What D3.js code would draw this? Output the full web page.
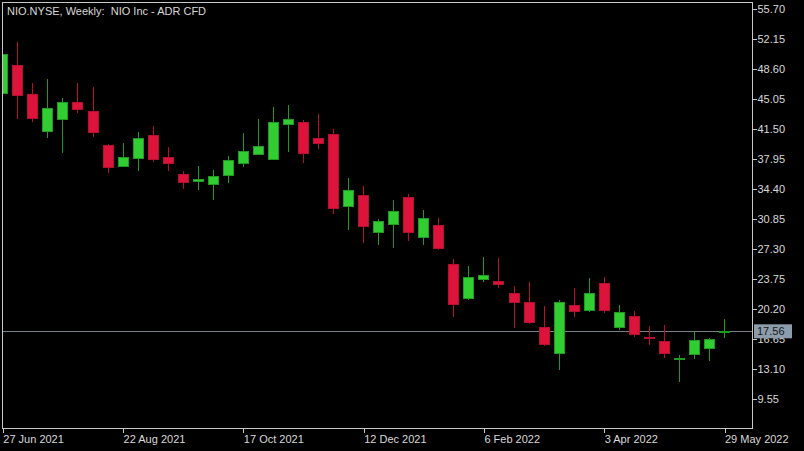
<!DOCTYPE html>
<html>
<head>
<meta charset="utf-8">
<script src="https://cdn.jsdelivr.net/npm/d3@7"></script>
<style>
  html, body { margin: 0; padding: 0; background: #000; }
  svg { display: block; }
  text { font-family: "Liberation Sans", Arial, sans-serif; font-size: 11px; }
</style>
</head>
<body>
<svg id="chart" width="804" height="451"></svg>
<script>
// ---- data ----
const title = "NIO.NYSE, Weekly:  NIO Inc - ADR CFD";
const dates = [
  "2021-06-27","2021-07-04","2021-07-11","2021-07-18","2021-07-25","2021-08-01","2021-08-08","2021-08-15",
  "2021-08-22","2021-08-29","2021-09-05","2021-09-12","2021-09-19","2021-09-26","2021-10-03","2021-10-10",
  "2021-10-17","2021-10-24","2021-10-31","2021-11-07","2021-11-14","2021-11-21","2021-11-28","2021-12-05",
  "2021-12-12","2021-12-19","2021-12-26","2022-01-02","2022-01-09","2022-01-16","2022-01-23","2022-01-30",
  "2022-02-06","2022-02-13","2022-02-20","2022-02-27","2022-03-06","2022-03-13","2022-03-20","2022-03-27",
  "2022-04-03","2022-04-10","2022-04-17","2022-04-24","2022-05-01","2022-05-08","2022-05-15","2022-05-22",
  "2022-05-29"
];
const open = [45.68,49.07,45.64,41.23,42.68,44.66,43.63,39.57,37.12,37.99,40.79,38.07,36.10,35.23,34.99,36.02,
  37.44,38.54,37.92,42.09,42.29,40.32,40.87,32.31,33.65,29.31,30.18,33.42,28.69,30.06,25.41,21.47,
  23.72,23.51,22.06,20.95,18.07,14.99,20.64,20.00,23.16,17.99,19.29,16.85,16.30,14.17,14.76,15.47,17.50];
const high = [50.60,51.76,46.94,47.42,45.20,46.91,46.43,39.70,39.81,41.11,41.86,39.41,36.53,37.12,36.65,38.31,
  40.99,42.65,44.07,44.30,42.57,43.24,41.46,35.67,34.76,30.85,33.10,33.81,31.88,30.97,26.08,25.29,
  26.39,26.27,22.92,23.40,20.59,21.27,22.65,23.83,23.95,20.64,19.96,18.19,18.27,14.76,17.60,16.77,18.98];
const low = [45.40,42.68,42.36,40.47,38.70,43.43,40.59,36.26,37.00,36.57,37.56,36.57,34.43,34.28,33.10,35.15,
  37.04,38.40,37.80,38.82,37.44,39.13,31.44,29.55,27.98,27.77,27.45,28.25,27.77,27.18,19.29,21.30,
  23.43,22.65,17.99,18.40,15.80,12.98,19.29,19.90,19.69,17.72,16.92,15.91,14.44,11.60,14.25,14.08,16.81];
const close = [50.34,45.44,42.77,43.87,44.66,43.78,41.03,36.92,38.10,40.32,37.87,37.44,35.19,35.47,35.86,37.75,
  38.86,39.41,42.29,42.65,38.63,39.81,32.12,34.20,29.99,30.53,31.76,29.23,30.93,27.34,20.79,23.95,
  24.11,23.12,20.95,18.58,15.98,20.95,19.88,21.98,20.00,19.76,17.24,16.70,14.88,14.40,16.53,16.65,17.56];
const priceTicks = [55.70,52.15,48.60,45.05,41.50,37.95,34.40,30.85,27.30,23.75,20.20,16.65,13.10,9.55];
const dateTicks = ["2021-06-27","2021-08-22","2021-10-17","2021-12-12","2022-02-06","2022-04-03","2022-05-29"];
const dateTickLabels = ["27 Jun 2021","22 Aug 2021","17 Oct 2021","12 Dec 2021","6 Feb 2022","3 Apr 2022","29 May 2022"];
const lastPrice = 17.56;

// ---- layout ----
const plot = { left: 2, right: 752, top: 2, bottom: 428.5 };
const svg = d3.select("#chart");
svg.append("rect").attr("width", 804).attr("height", 451).attr("fill", "#000");

const x = d3.scalePoint().domain(dates).range([2.3, 724]);
const y = d3.scaleLinear().domain([9.55, 55.70]).range([399, 9]);

const candles = dates.map((d, i) => ({ d, o: open[i], h: high[i], l: low[i], c: close[i] }));

svg.append("clipPath").attr("id", "clip").append("rect")
  .attr("x", plot.left + 1).attr("y", plot.top + 1)
  .attr("width", plot.right - plot.left - 1).attr("height", plot.bottom - plot.top - 1);

const g = svg.append("g").attr("clip-path", "url(#clip)").attr("shape-rendering", "crispEdges");

// last price line
g.append("line")
  .attr("x1", plot.left).attr("x2", plot.right)
  .attr("y1", Math.round(y(lastPrice)) + 0.5).attr("y2", Math.round(y(lastPrice)) + 0.5)
  .attr("stroke", "#76808a").attr("stroke-width", 1);

const upFill = "#32cd32", upLine = "#1f9a1f";
const dnFill = "#dc143c", dnLine = "#b3102f";
const bw = 10;

const cg = g.selectAll("g.candle").data(candles).join("g").attr("class", "candle");
cg.append("line")
  .attr("x1", d => Math.round(x(d.d)) + 0.5).attr("x2", d => Math.round(x(d.d)) + 0.5)
  .attr("y1", d => y(d.h)).attr("y2", d => y(d.l))
  .attr("stroke", d => d.c >= d.o ? upLine : dnLine).attr("stroke-width", 1);
cg.append("rect")
  .attr("x", d => Math.round(x(d.d)) - bw / 2 + 0.5)
  .attr("y", d => y(Math.max(d.o, d.c)))
  .attr("width", bw)
  .attr("height", d => Math.max(1, Math.abs(y(d.o) - y(d.c))))
  .attr("fill", d => d.c >= d.o ? upFill : dnFill)
  .attr("stroke", d => d.c >= d.o ? upLine : dnLine)
  .attr("stroke-width", 1);

// frame
const frame = svg.append("g").attr("shape-rendering", "crispEdges");
frame.append("rect")
  .attr("x", plot.left + 0.5).attr("y", plot.top + 0.5)
  .attr("width", plot.right - plot.left).attr("height", plot.bottom - plot.top - 0.5)
  .attr("fill", "none").attr("stroke", "#c8c8c8").attr("stroke-width", 1);

// right axis
const yAxis = d3.axisRight(y).tickValues(priceTicks).tickSize(4).tickPadding(1)
  .tickFormat(d3.format(".2f"));
const ya = svg.append("g").attr("transform", `translate(${plot.right + 0.5},0)`).call(yAxis);
ya.select(".domain").remove();
ya.selectAll(".tick line").attr("stroke", "#c8c8c8").attr("shape-rendering", "crispEdges");
ya.selectAll(".tick text").attr("fill", "#d8d8d8").attr("font-family", "'Liberation Sans', Arial, sans-serif").attr("font-size", "11.5px");

// bottom axis
const xAxis = d3.axisBottom(x).tickValues(dateTicks).tickSize(4).tickPadding(3)
  .tickFormat((d) => dateTickLabels[dateTicks.indexOf(d)]);
const xa = svg.append("g").attr("transform", `translate(0.5,${plot.bottom})`).call(xAxis);
xa.select(".domain").remove();
xa.selectAll(".tick line").attr("stroke", "#c8c8c8").attr("shape-rendering", "crispEdges");
xa.selectAll(".tick text").attr("fill", "#d8d8d8").attr("text-anchor", "start")
  .attr("font-family", "'Liberation Sans', Arial, sans-serif").attr("font-size", "11.5px");

// price label (covers the 16.65 tick label, as in the original)
const py = y(lastPrice);
svg.append("rect").attr("x", 754).attr("y", py - 7).attr("width", 38).attr("height", 14)
  .attr("fill", "#8d9cab");
svg.append("text").attr("x", 757).attr("y", py + 4).attr("fill", "#101820")
  .attr("font-size", "11.5px").text(lastPrice.toFixed(2));

// title
svg.append("text").attr("x", 7).attr("y", 15).attr("fill", "#d8d8d8").attr("font-size", "11.5px")
  .style("white-space", "pre").attr("xml:space", "preserve").text(title);
</script>
</body>
</html>
